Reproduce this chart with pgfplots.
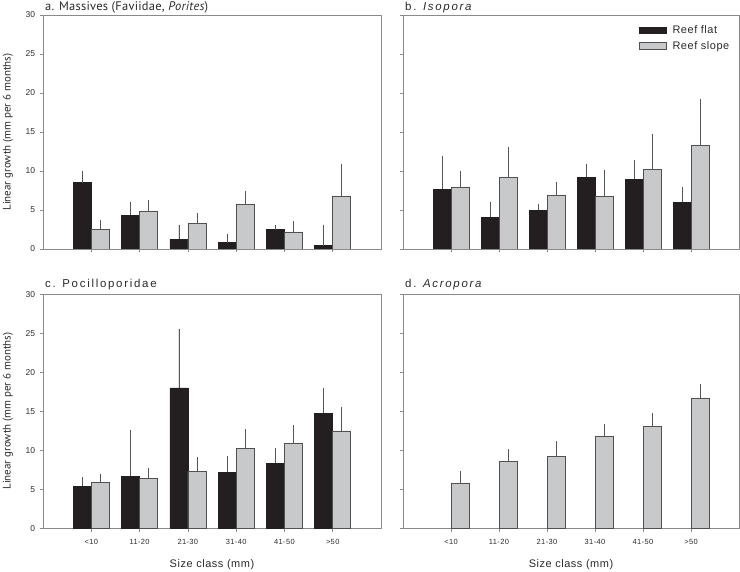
\documentclass[border=0pt]{standalone}
\usepackage{pgfplots}
\pgfplotsset{compat=1.18}
\usepackage{pgfplotstable}
\usepackage{fontspec}
\setmainfont{Liberation Sans}
\newfontfamily\myriad{PT Sans}
\newfontfamily\myriadsp[LetterSpace=2]{PT Sans}
\newfontfamily\spaced[LetterSpace=15]{Liberation Sans}
\newfontfamily\lspaced[LetterSpace=5]{Liberation Sans}

\definecolor{barblack}{HTML}{231F20}
\definecolor{bargrey}{HTML}{C8C9CB}
\definecolor{baredge}{HTML}{505050}
\definecolor{axisgray}{HTML}{8A8A8A}
\definecolor{errgray}{HTML}{555555}
\definecolor{txtgray}{HTML}{2A2A2A}

% x  flat flaterr slope slopeerr
\pgfplotstableread{
x f fe s se
0 8.50 1.50 2.56 1.20
1 4.35 1.70 4.87 1.45
2 1.28 1.84 3.24 1.37
3 0.81 1.07 5.68 1.70
4 2.48 0.64 2.18 1.45
5 0.43 2.69 6.79 4.14
}\dataA
\pgfplotstableread{
x f fe s se
0 7.68 4.27 7.94 2.05
1 4.05 1.92 9.22 3.88
2 4.95 0.85 6.91 1.71
3 9.22 1.62 6.79 3.37
4 8.92 2.43 10.24 4.53
5 6.02 1.88 13.32 5.93
}\dataB
\pgfplotstableread{
x f fe s se
0 5.38 1.19 5.89 1.07
1 6.70 5.85 6.40 1.28
2 18.00 7.60 7.30 1.79
3 7.17 2.09 10.24 2.44
4 8.37 1.87 10.84 2.43
5 14.72 3.33 12.50 2.99
}\dataC
\pgfplotstableread{
x s se
0 5.72 1.66
1 8.54 1.57
2 9.22 1.92
3 11.82 1.54
4 13.10 1.67
5 16.73 1.71
}\dataD

\pgfplotsset{
  panel/.style={
    scale only axis, anchor=south west,
    height=234bp,
    xmin=-1, xmax=6, ymin=0, ymax=30,
    ytick={0,5,...,30}, xtick={0,...,5},
    tick align=outside, major tick length=3.5bp,
    xtick pos=bottom, ytick pos=left,
    axis line style={draw=axisgray, line width=0.9bp},
    every tick/.style={draw=axisgray, line width=0.7bp},
    yticklabel style={font=\fontsize{8.5}{10}\selectfont, text=txtgray, xshift=-1bp},
    xticklabel style={font=\lspaced\fontsize{7.5}{9}\selectfont, text=txtgray, yshift=-4bp},
    /pgf/number format/assume math mode=true,
    ybar, bar width=18bp,
  },
  flat/.style={ybar, bar shift=-9bp, fill=barblack, draw=barblack, line width=0.6bp,
    error bars/.cd, y dir=plus, y explicit, error mark=none,
    error bar style={draw=errgray, line width=0.7bp}},
  slope/.style={ybar, bar shift=9bp, fill=bargrey, draw=baredge, line width=0.6bp,
    error bars/.cd, y dir=plus, y explicit, error mark=none,
    error bar style={draw=errgray, line width=0.7bp}},
}

\begin{document}
\begin{tikzpicture}
\useasboundingbox (0,0) rectangle (740bp,572bp);

% panel a
\begin{axis}[panel, at={(43bp,323bp)}, width=338bp, xticklabel=\empty]
\addplot[flat] table[x=x, y=f, y error=fe] {\dataA};
\addplot[slope] table[x=x, y=s, y error=se] {\dataA};
\end{axis}

% panel b
\begin{axis}[panel, at={(403bp,323bp)}, width=336bp, xticklabel=\empty, yticklabel=\empty,
  legend style={at={(rel axis cs:1,1)}, anchor=north east, xshift=-8bp, yshift=-9bp,
    draw=none, fill=none, font=\lspaced\fontsize{11}{12}\selectfont, text=txtgray,
    inner sep=0pt, row sep=3bp, column sep=4bp, nodes={inner sep=1.5bp}},
  legend cell align=left,
  legend image code/.code={\draw[#1, bar shift=0pt] (0bp,-3.2bp) rectangle (27bp,3.2bp);}]
\addplot[flat] table[x=x, y=f, y error=fe] {\dataB};
\addplot[slope] table[x=x, y=s, y error=se] {\dataB};
\legend{Reef flat, Reef slope}
\end{axis}

% panel c
\begin{axis}[panel, at={(43bp,43.7bp)}, width=338bp,
  xticklabels={<10,11-20,21-30,31-40,41-50,>50}]
\addplot[flat] table[x=x, y=f, y error=fe] {\dataC};
\addplot[slope] table[x=x, y=s, y error=se] {\dataC};
\end{axis}

% panel d
\begin{axis}[panel, at={(403bp,43.7bp)}, width=336bp, yticklabel=\empty,
  xticklabels={<10,11-20,21-30,31-40,41-50,>50}]
\addplot[slope] table[x=x, y=s, y error=se] {\dataD};
\end{axis}

% titles
\node[anchor=base west, inner sep=0pt, text=txtgray, font=\myriadsp\fontsize{12.5}{14}\selectfont]
  at (45bp,561.5bp) {a. Massives (Faviidae, \textit{Porites})};
\node[anchor=base west, inner sep=0pt, text=txtgray, font=\spaced\fontsize{11.5}{13}\selectfont]
  at (405bp,561.5bp) {b. \textit{Isopora}};
\node[anchor=base west, inner sep=0pt, text=txtgray, font=\spaced\fontsize{11.5}{13}\selectfont]
  at (45bp,284bp) {c. Pocilloporidae};
\node[anchor=base west, inner sep=0pt, text=txtgray, font=\spaced\fontsize{11.5}{13}\selectfont]
  at (405bp,284bp) {d. \textit{Acropora}};

% y labels
\node[rotate=90, inner sep=0pt, text=txtgray, font=\myriad\fontsize{11}{12}\selectfont]
  at (8bp,440bp) {Linear growth (mm per 6 months)};
\node[rotate=90, inner sep=0pt, text=txtgray, font=\myriad\fontsize{11}{12}\selectfont]
  at (8bp,161bp) {Linear growth (mm per 6 months)};

% x labels
\node[anchor=base, inner sep=0pt, text=txtgray, font=\lspaced\fontsize{11}{12}\selectfont]
  at (212bp,5bp) {Size class (mm)};
\node[anchor=base, inner sep=0pt, text=txtgray, font=\lspaced\fontsize{11}{12}\selectfont]
  at (571bp,5bp) {Size class (mm)};
\end{tikzpicture}
\end{document}
